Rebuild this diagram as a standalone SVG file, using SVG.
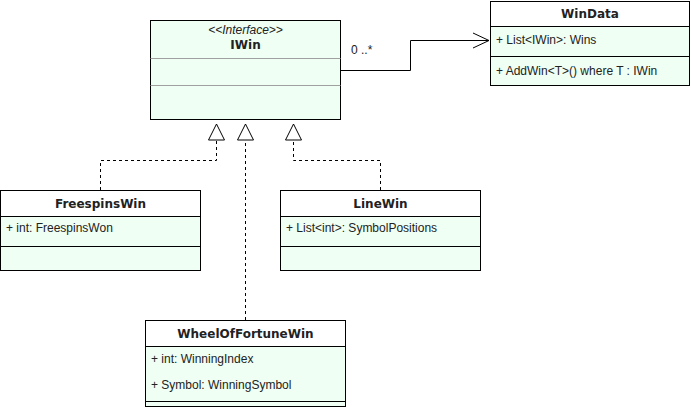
<svg xmlns="http://www.w3.org/2000/svg" width="691" height="407" viewBox="0 0 691 407">
<style>
.box{fill:#f0fff4;stroke:#000;stroke-width:1}
.hdr{fill:#fff;stroke:#000;stroke-width:1}
.sep{stroke:#000;stroke-width:1}
.gsep{stroke:#a0a0a0;stroke-width:1}
.t{font-family:"Liberation Sans",Arial,sans-serif;font-size:12px;fill:#222}
.title{font-family:"DejaVu Sans",Verdana,sans-serif;font-size:12px;font-weight:bold;fill:#222;text-anchor:middle}
.st{font-family:"Liberation Sans",Arial,sans-serif;font-size:12px;font-style:italic;fill:#222;text-anchor:middle}
.dash{fill:none;stroke:#000;stroke-width:1;stroke-dasharray:3 3}
.solid{fill:none;stroke:#000;stroke-width:1}
.tri{fill:#fff;stroke:#000;stroke-width:1}
</style>
<rect width="691" height="407" fill="#fff"/>
<g id="connectors">
<path class="dash" d="M100.5 190 V160.5 H216.5 V140"/>
<path class="dash" d="M245.5 320 V140"/>
<path class="dash" d="M380.5 190 V160.5 H293.5 V140"/>
<polygon class="tri" points="216.5,124 208.5,140 224.5,140"/>
<polygon class="tri" points="245.5,124 237.5,140 253.5,140"/>
<polygon class="tri" points="293.5,124 285.5,140 301.5,140"/>
<path class="solid" d="M341 70.5 H410.5 V40.5 H489"/>
<path class="solid" d="M473 33 L489 40.5 L473 48"/>
<text class="t" x="351" y="54">0 ..*</text>
</g>
<g id="IWin">
<rect class="box" x="150.5" y="20.5" width="190" height="99"/>
<line class="gsep" x1="150.5" y1="58.5" x2="340.5" y2="58.5"/>
<line class="gsep" x1="150.5" y1="85.5" x2="340.5" y2="85.5"/>
<text class="st" x="245.5" y="34">&lt;&lt;Interface&gt;&gt;</text>
<text class="title" x="245.5" y="49">IWin</text>
</g>
<g id="WinData">
<rect class="box" x="490.5" y="1.5" width="199" height="84"/>
<rect class="hdr" x="490.5" y="1.5" width="199" height="25"/>
<line class="sep" x1="490.5" y1="56.5" x2="689.5" y2="56.5"/>
<text class="title" x="590" y="18">WinData</text>
<text class="t" x="496" y="44">+ List&lt;IWin&gt;: Wins</text>
<text class="t" x="496" y="75">+ AddWin&lt;T&gt;() where T : IWin</text>
</g>
<g id="FreespinsWin">
<rect class="box" x="0.5" y="190.5" width="200" height="80"/>
<rect class="hdr" x="0.5" y="190.5" width="200" height="26"/>
<line class="sep" x1="0.5" y1="246.5" x2="200.5" y2="246.5"/>
<text class="title" x="100.5" y="208">FreespinsWin</text>
<text class="t" x="6" y="232">+ int: FreespinsWon</text>
</g>
<g id="LineWin">
<rect class="box" x="280.5" y="190.5" width="200" height="80"/>
<rect class="hdr" x="280.5" y="190.5" width="200" height="26"/>
<line class="sep" x1="280.5" y1="246.5" x2="480.5" y2="246.5"/>
<text class="title" x="380.5" y="208">LineWin</text>
<text class="t" x="286" y="232">+ List&lt;int&gt;: SymbolPositions</text>
</g>
<g id="WheelOfFortuneWin">
<rect class="box" x="145.5" y="320.5" width="200" height="86"/>
<rect class="hdr" x="145.5" y="320.5" width="200" height="26"/>
<line class="sep" x1="145.5" y1="401.5" x2="345.5" y2="401.5"/>
<text class="title" x="245.5" y="338">WheelOfFortuneWin</text>
<text class="t" x="151" y="363">+ int: WinningIndex</text>
<text class="t" x="151" y="389">+ Symbol: WinningSymbol</text>
</g>
</svg>
